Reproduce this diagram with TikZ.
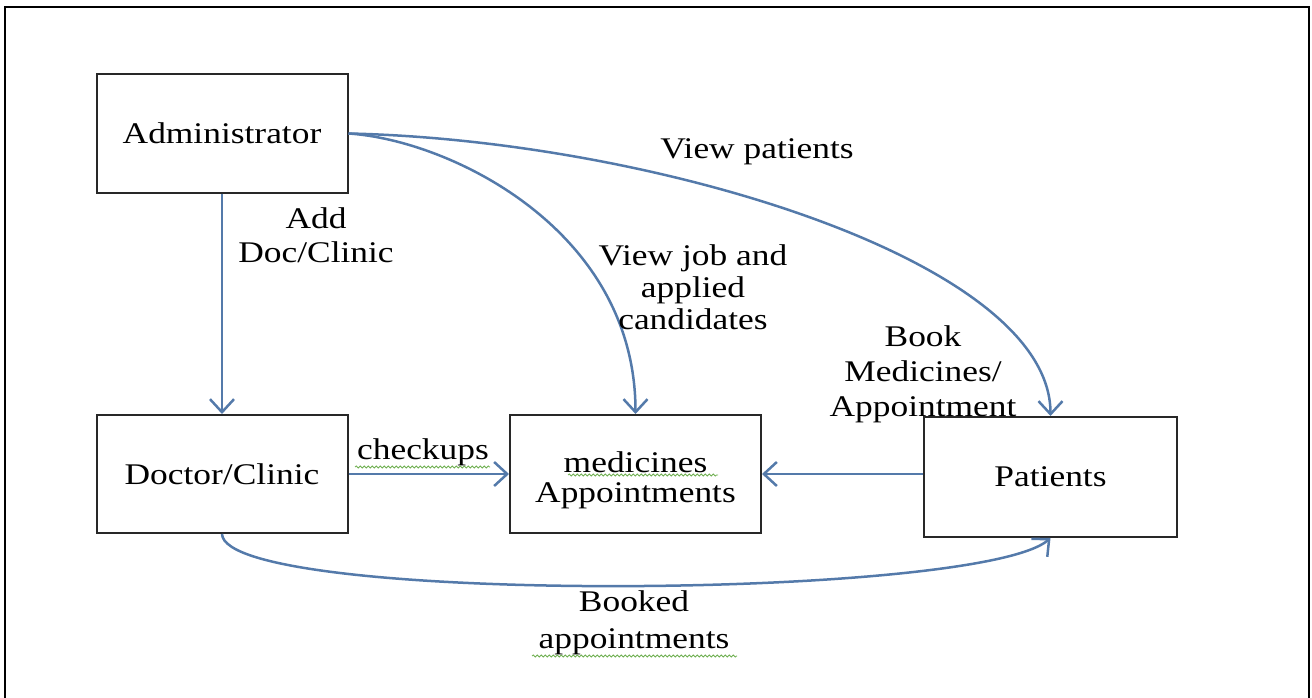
\documentclass[tikz,border=0pt]{standalone}
\usepackage{fontspec}
\setmainfont{Liberation Serif}[FakeStretch=1.18]
\usetikzlibrary{arrows.meta,decorations.pathmorphing}
\definecolor{flowblue}{RGB}{84,122,170}
\definecolor{boxgray}{RGB}{40,40,40}
\definecolor{spellgreen}{RGB}{110,175,80}
\tikzset{
	entitybox/.style={draw=boxgray, line width=2pt, minimum width=251pt, minimum height=118pt, align=center, inner sep=0pt},
	flowarrow/.style={draw=flowblue, line width=2.5pt, -{Straight Barb[length=13pt,width=24pt]}},
	flowlabel/.style={align=center, inner sep=0pt},
	spellmark/.style={draw=spellgreen, line width=0.8pt, decorate, decoration={snake, segment length=4pt, amplitude=1pt}}
}

\begin{document}
\begin{tikzpicture}[x=1pt, y=-1pt, font=\fontsize{30}{32}\selectfont]
			%%%%% START %%%%%
			\useasboundingbox (0, 0) rectangle (1312, 698);
			\draw[line width=2.5pt] (5, 7) rectangle (1309, 720);
			
			\node[entitybox] (admin) at (222, 133.5) {Administrator};
			\node[entitybox] (doctor) at (222, 474) {Doctor/Clinic};
			\node[entitybox] (appts) at (635.5, 474) {\rule{0pt}{33pt}medicines\\[-2pt]Appointments};
			\node[entitybox, minimum width=253pt, minimum height=120pt] (patients) at (1050.5, 477) {Patients};
			
			\draw[flowarrow] (admin.south) -- (doctor.north);
			\draw[flowarrow] (doctor.east) -- (appts.west);
			\draw[flowarrow] (patients.west |- appts.east) -- (appts.east);
			\draw[flowarrow] (admin.east) .. controls (450, 140) and (635.5, 230) .. (appts.north);
			\draw[flowarrow] (admin.east) .. controls (650, 140) and (1050.5, 260) .. (patients.north);
			\draw[flowarrow] (doctor.south) .. controls (225, 605) and (980, 600) .. (patients.south);
			
			\node[flowlabel] (lbladd) at (316, 235) {Add\\[2pt]Doc/Clinic};
			\node[flowlabel] (lblcheck) at (423, 452) {checkups};
			\node[flowlabel] (lbljob) at (693, 287) {View job and\\applied\\candidates};
			\node[flowlabel] (lblview) at (757, 152) {View patients};
			\node[flowlabel] (lblbook) at (923, 374) {Book\\[3pt]Medicines/\\[3pt]Appointment};
			\node[flowlabel] (lblbooked) at (634, 623) {Booked\\[5pt]appointments};
			
			% spelling marks
			\draw[spellmark] (355, 467) -- (490, 467);
			\draw[spellmark] (568, 475) -- (718, 475);
			\draw[spellmark] (532, 656) -- (737, 656);
			%%%%% END %%%%%
\end{tikzpicture}
\end{document}
